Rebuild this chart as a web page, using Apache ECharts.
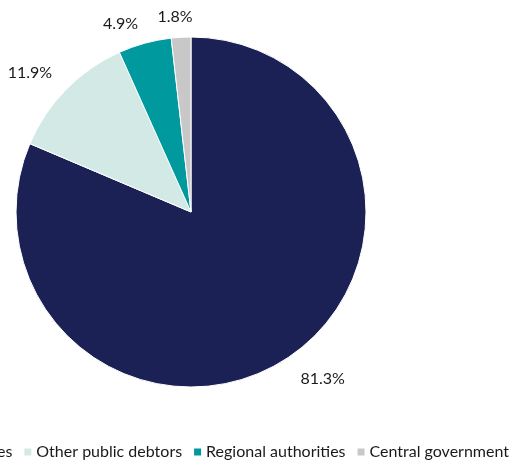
<!DOCTYPE html>
<html><head><meta charset="utf-8">
<script src="https://cdn.jsdelivr.net/npm/echarts@6/dist/echarts.min.js"></script>
<style>html,body{margin:0;padding:0;background:#fff}#c{width:512px;height:463px}</style>
</head><body><div id="c"></div>
<script>
const categories = ["Local authorities", "Other public debtors", "Regional authorities", "Central government"];
const values = [81.3, 11.9, 4.9, 1.8];
const colors = ["#1b2155", "#d3e9e6", "#00999e", "#c8c8c8"];

const labelOffsets = [[-6, 0], [9, 1], [5, 5], [18, 5]];

const chart = echarts.init(document.getElementById('c'));
chart.setOption({
  animation: false,
  color: colors,
  legend: {
    right: -2, bottom: -2, width: 1000,
    itemWidth: 9, itemHeight: 9, itemGap: 10,
    icon: 'rect',
    textStyle: {fontFamily: 'Lato', fontSize: 16, color: '#1a1a1a', padding: [0, 0, 0, -1]},
    data: categories
  },
  series: [{
    type: 'pie',
    center: [191, 212],
    radius: 175,
    startAngle: 90,
    avoidLabelOverlap: false,
    itemStyle: {borderColor: '#fff', borderWidth: 1},
    label: {
      position: 'outside',
      formatter: p => p.value.toFixed(1) + '%',
      fontFamily: 'Lato', fontSize: 16, color: '#1a1a1a'
    },
    labelLine: {show: false, length: 25, length2: 0},
    emphasis: {disabled: true},
    data: categories.map((n, i) => ({name: n, value: values[i], label: {offset: labelOffsets[i]}}))
  }]
});
</script></body></html>
